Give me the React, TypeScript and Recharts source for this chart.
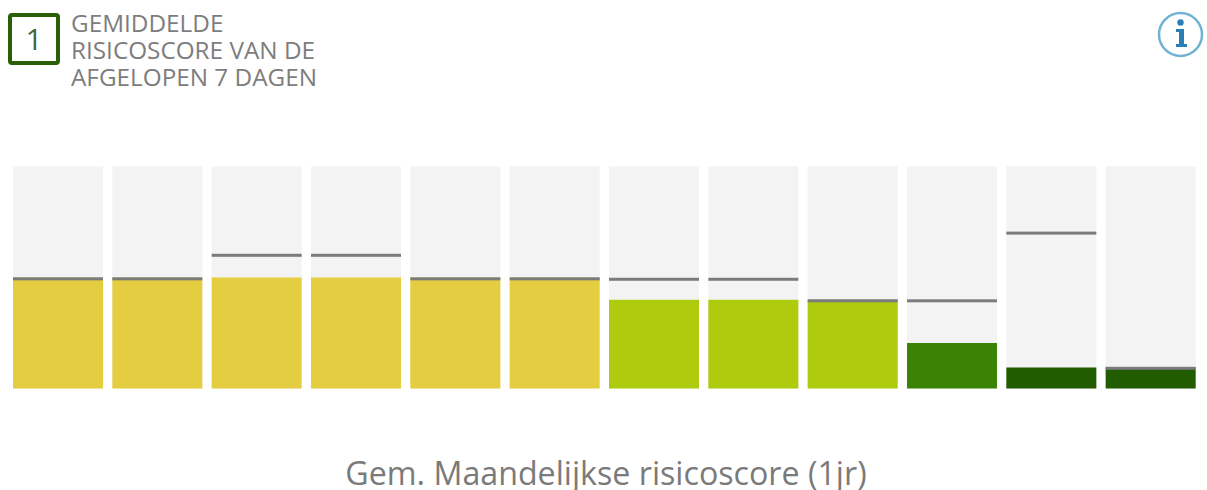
import React from 'react';
import { BarChart, Bar, XAxis, YAxis, Cell } from 'recharts';

const months = ['1', '2', '3', '4', '5', '6', '7', '8', '9', '10', '11', '12'];
const scores = [50, 50, 50, 50, 50, 50, 40, 40, 40, 20.5, 9.5, 9.5];
const averages = [49.4, 49.4, 60, 60, 49.4, 49.4, 49.2, 49.2, 39.5, 39.5, 70, 9.1];
const barColors = [
   '#e4cd40', '#e4cd40', '#e4cd40', '#e4cd40', '#e4cd40', '#e4cd40',
   '#afcb0e', '#afcb0e', '#afcb0e', '#3a8304', '#215c00', '#215c00',
];
const titleLines = ['GEMIDDELDE', 'RISICOSCORE VAN DE', 'AFGELOPEN 7 DAGEN'];

const chartData = months.map((month, index) => ({
   month,
   score: scores[index],
   average: averages[index],
}));

const font = '"Open Sans", sans-serif';

// thin grey marker centred on the height of the 7 day average
const AverageMarker = ({ x, y, width }: any) => (
   <rect x={x} y={y - 1.5} width={width} height={3} fill="#7b7b7d" />
);

export default function App() {
   return (
      <div
         style={{
            position: 'absolute',
            left: 0,
            top: 0,
            width: 1207,
            height: 490,
            background: '#fff',
            overflow: 'hidden',
            fontFamily: font,
         }}
      >
         <div
            style={{
               position: 'absolute',
               left: 8,
               top: 13,
               width: 44,
               height: 44,
               border: '4.5px solid #2a5f05',
               borderRadius: 4,
               color: '#44663a',
               fontSize: 30,
               lineHeight: '44px',
               textAlign: 'center',
            }}
         >
            1
         </div>
         <div
            style={{
               position: 'absolute',
               left: 71,
               top: 9,
               color: '#7d7d7d',
               fontSize: 24.3,
               lineHeight: '27px',
               whiteSpace: 'nowrap',
            }}
         >
            {titleLines.map((line) => (
               <div key={line}>{line}</div>
            ))}
         </div>
         <svg
            width={50}
            height={50}
            style={{ position: 'absolute', left: 1156, top: 10 }}
         >
            <circle cx={24.5} cy={24.5} r={21.5} fill="#fff" stroke="#6fb2d2" strokeWidth={2.5} />
            <circle cx={24.5} cy={12.5} r={3.2} fill="#2b7fb8" />
            <path d="M20 19 h8 v15 h3 v3 h-11 v-3 h3 v-12 h-3 z" fill="#2b7fb8" />
         </svg>
         <BarChart
            width={1207}
            height={490}
            data={chartData}
            barSize={90}
            barGap={-90}
            margin={{ top: 166.5, right: 7, bottom: 101.5, left: 8 }}
            style={{ position: 'absolute', left: 0, top: 0 }}
         >
            <XAxis dataKey="month" hide />
            <YAxis domain={[0, 100]} hide />
            <Bar
               dataKey="score"
               isAnimationActive={false}
               background={{ fill: '#f3f3f4' }}
            >
               {chartData.map((entry, index) => (
                  <Cell key={entry.month} fill={barColors[index]} />
               ))}
            </Bar>
            <Bar
               dataKey="average"
               isAnimationActive={false}
               shape={<AverageMarker />}
            />
         </BarChart>
         <div
            style={{
               position: 'absolute',
               left: 0,
               width: 1212,
               top: 456,
               height: 34,
               textAlign: 'center',
               color: '#7a7a7a',
               fontSize: 32.2,
               lineHeight: '34px',
               whiteSpace: 'nowrap',
            }}
         >
            Gem. Maandelijkse risicoscore (1jr)
         </div>
      </div>
   );
}
